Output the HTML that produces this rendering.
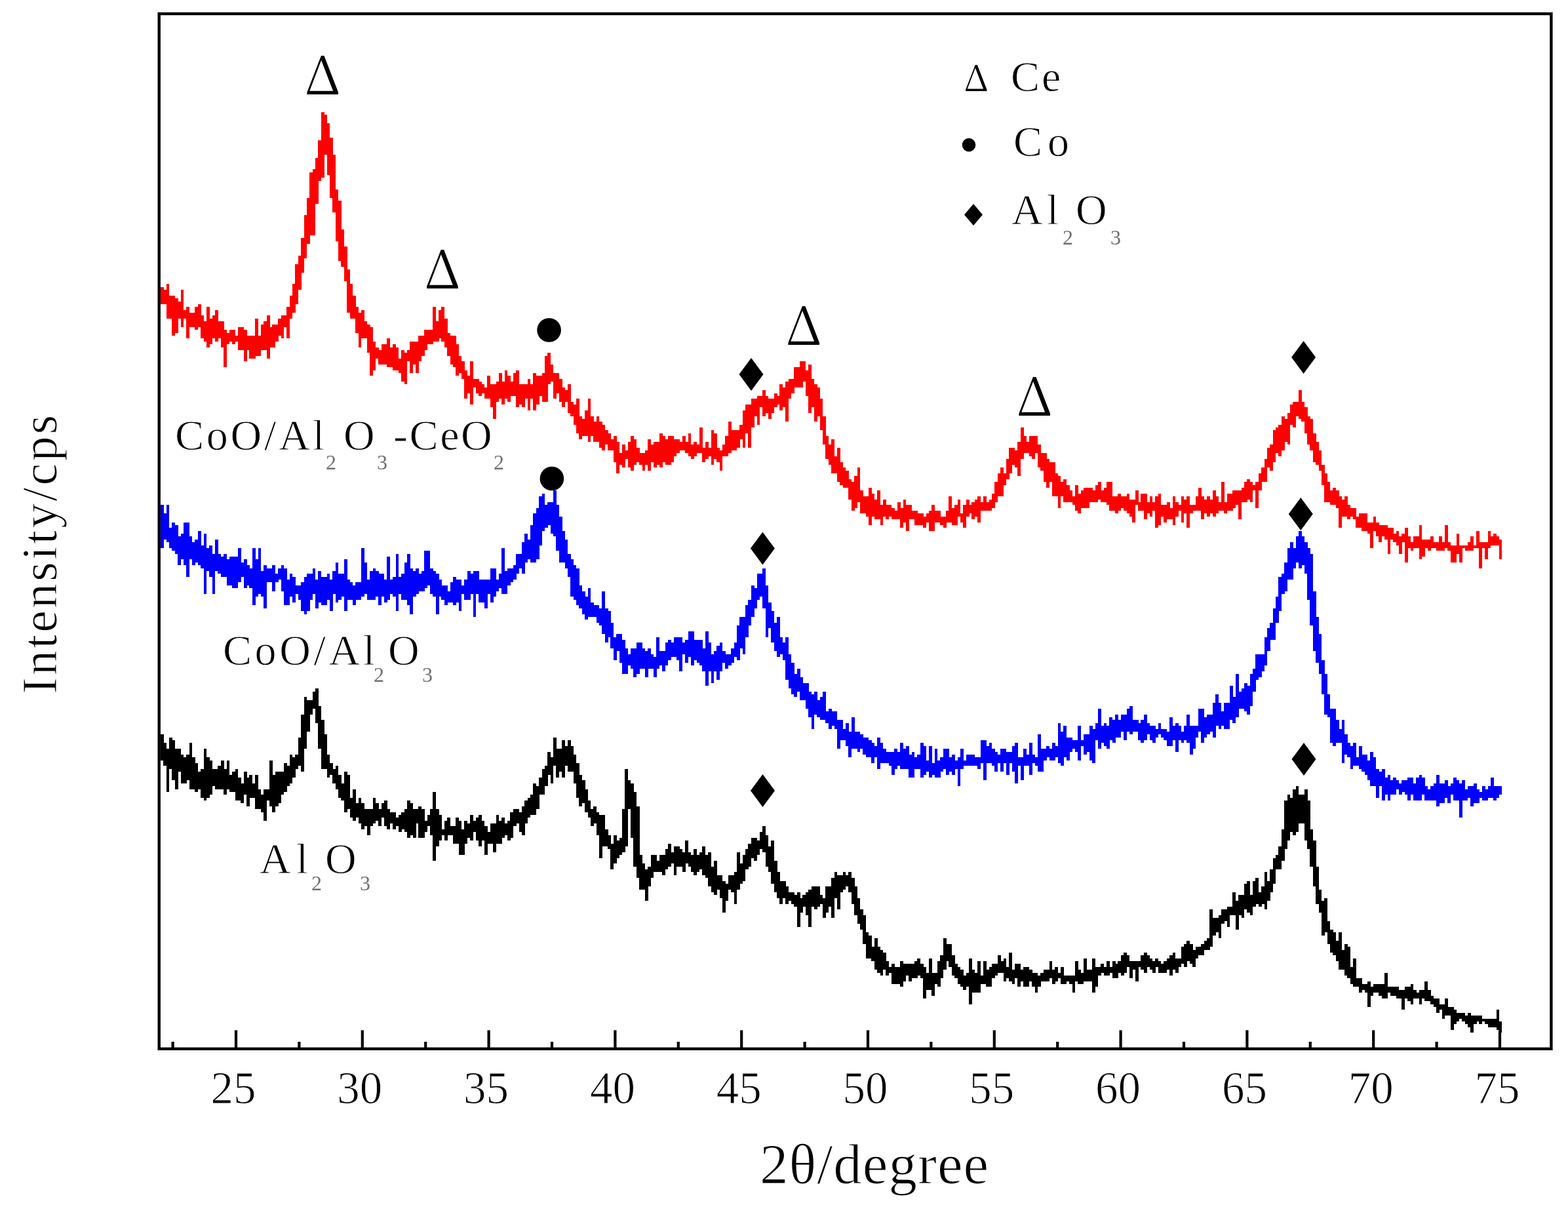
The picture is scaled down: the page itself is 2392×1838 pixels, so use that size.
<!DOCTYPE html>
<html><head><meta charset="utf-8"><title>XRD patterns</title>
<style>html,body{margin:0;padding:0;background:#fff;}svg{display:block;}</style>
</head><body>
<svg width="2392" height="1838" viewBox="0 0 2392 1838">
<rect width="2392" height="1838" fill="#fff"/>
<g shape-rendering="crispEdges">
<path fill="#ff0000" d="M244.9 437.6H249.7V463.9H244.9ZM249.3 442.0H254.0V463.9H249.3ZM253.6 433.2H258.4V485.8H253.6ZM258.0 450.7H262.8V485.8H258.0ZM262.4 450.7H267.1V512.0H262.4ZM266.7 455.1H271.5V507.6H266.7ZM271.1 459.5H275.9V485.8H271.1ZM275.5 442.0H280.3V498.9H275.5ZM279.9 472.6H284.6V485.8H279.9ZM284.2 468.3H289.0V516.4H284.2ZM288.6 477.0H293.4V498.9H288.6ZM293.0 477.0H297.8V498.9H293.0ZM297.4 468.3H302.1V503.3H297.4ZM301.7 463.9H306.5V498.9H301.7ZM306.1 481.4H310.9V516.4H306.1ZM310.5 490.1H315.3V520.8H310.5ZM314.9 468.3H319.6V529.5H314.9ZM319.2 485.8H324.0V525.1H319.2ZM323.6 481.4H328.4V516.4H323.6ZM328.0 472.6H332.7V520.8H328.0ZM332.3 490.1H337.1V516.4H332.3ZM336.7 490.1H341.5V529.5H336.7ZM341.1 503.3H345.9V560.2H341.1ZM345.5 507.6H350.2V525.1H345.5ZM349.8 503.3H354.6V520.8H349.8ZM354.2 503.3H359.0V525.1H354.2ZM358.6 512.0H363.4V520.8H358.6ZM363.0 498.9H367.7V533.9H363.0ZM367.3 498.9H372.1V533.9H367.3ZM371.7 503.3H376.5V551.4H371.7ZM376.1 512.0H380.8V533.9H376.1ZM380.4 512.0H385.2V547.0H380.4ZM384.8 512.0H389.6V547.0H384.8ZM389.2 485.8H394.0V542.6H389.2ZM393.6 512.0H398.3V542.6H393.6ZM397.9 494.5H402.7V533.9H397.9ZM402.3 490.1H407.1V533.9H402.3ZM406.7 481.4H411.5V547.0H406.7ZM411.1 498.9H415.8V529.5H411.1ZM415.4 494.5H420.2V529.5H415.4ZM419.8 494.5H424.6V520.8H419.8ZM424.2 485.8H428.9V512.0H424.2ZM428.5 481.4H433.3V516.4H428.5ZM432.9 481.4H437.7V498.9H432.9ZM437.3 468.3H442.1V516.4H437.3ZM441.7 450.7H446.4V485.8H441.7ZM446.0 433.2H450.8V477.0H446.0ZM450.4 402.6H455.2V463.9H450.4ZM454.8 389.5H459.6V442.0H454.8ZM459.2 363.2H463.9V415.7H459.2ZM463.5 328.2H468.3V393.9H463.5ZM467.9 302.0H472.7V372.0H467.9ZM472.3 262.6H477.1V358.8H472.3ZM476.7 258.2H481.4V358.8H476.7ZM481.0 240.7H485.8V310.7H481.0ZM485.4 214.4H490.2V275.7H485.4ZM489.8 170.7H494.5V271.3H489.8ZM494.1 175.0H498.9V236.3H494.1ZM498.5 188.2H503.3V266.9H498.5ZM502.9 210.1H507.7V302.0H502.9ZM507.3 236.3H512.0V323.8H507.3ZM511.6 288.8H516.4V367.6H511.6ZM516.0 306.3H520.8V398.2H516.0ZM520.4 350.1H525.2V407.0H520.4ZM524.8 376.4H529.5V428.9H524.8ZM529.1 411.4H533.9V477.0H529.1ZM533.5 433.2H538.3V485.8H533.5ZM537.9 450.7H542.6V485.8H537.9ZM542.2 468.3H547.0V507.6H542.2ZM546.6 477.0H551.4V529.5H546.6ZM551.0 472.6H555.8V516.4H551.0ZM555.4 490.1H560.1V516.4H555.4ZM559.7 494.5H564.5V538.3H559.7ZM564.1 498.9H568.9V573.3H564.1ZM568.5 520.8H573.3V564.5H568.5ZM572.9 529.5H577.6V547.0H572.9ZM577.2 533.9H582.0V555.8H577.2ZM581.6 525.1H586.4V555.8H581.6ZM586.0 525.1H590.7V555.8H586.0ZM590.3 516.4H595.1V560.2H590.3ZM594.7 529.5H599.5V560.2H594.7ZM599.1 525.1H603.9V564.5H599.1ZM603.5 529.5H608.2V564.5H603.5ZM607.8 547.0H612.6V568.9H607.8ZM612.2 533.9H617.0V582.0H612.2ZM616.6 538.3H621.4V586.4H616.6ZM621.0 533.9H625.7V551.4H621.0ZM625.3 520.8H630.1V568.9H625.3ZM629.7 520.8H634.5V555.8H629.7ZM634.1 520.8H638.8V568.9H634.1ZM638.4 512.0H643.2V551.4H638.4ZM642.8 512.0H647.6V542.6H642.8ZM647.2 503.3H652.0V533.9H647.2ZM651.6 503.3H656.3V525.1H651.6ZM655.9 503.3H660.7V525.1H655.9ZM660.3 468.3H665.1V520.8H660.3ZM664.7 490.1H669.5V520.8H664.7ZM669.1 472.6H673.8V516.4H669.1ZM673.4 468.3H678.2V520.8H673.4ZM677.8 485.8H682.6V529.5H677.8ZM682.2 507.6H687.0V542.6H682.2ZM686.6 512.0H691.3V555.8H686.6ZM690.9 512.0H695.7V560.2H690.9ZM695.3 525.1H700.1V573.3H695.3ZM699.7 542.6H704.4V568.9H699.7ZM704.0 551.4H708.8V577.7H704.0ZM708.4 564.5H713.2V608.3H708.4ZM712.8 573.3H717.6V599.5H712.8ZM717.2 551.4H721.9V617.0H717.2ZM721.5 577.7H726.3V590.8H721.5ZM725.9 577.7H730.7V599.5H725.9ZM730.3 582.0H735.1V603.9H730.3ZM734.7 586.4H739.4V599.5H734.7ZM739.0 590.8H743.8V608.3H739.0ZM743.4 573.3H748.2V608.3H743.4ZM747.8 586.4H752.5V621.4H747.8ZM752.1 586.4H756.9V638.9H752.1ZM756.5 582.0H761.3V612.7H756.5ZM760.9 568.9H765.7V608.3H760.9ZM765.3 582.0H770.0V617.0H765.3ZM769.6 564.5H774.4V608.3H769.6ZM774.0 573.3H778.8V612.7H774.0ZM778.4 582.0H783.2V603.9H778.4ZM782.8 568.9H787.5V603.9H782.8ZM787.1 564.5H791.9V621.4H787.1ZM791.5 586.4H796.3V617.0H791.5ZM795.9 586.4H800.6V621.4H795.9ZM800.2 586.4H805.0V608.3H800.2ZM804.6 577.7H809.4V625.8H804.6ZM809.0 586.4H813.8V608.3H809.0ZM813.4 568.9H818.1V625.8H813.4ZM817.7 573.3H822.5V617.0H817.7ZM822.1 573.3H826.9V603.9H822.1ZM826.5 568.9H831.3V612.7H826.5ZM830.9 542.6H835.6V612.7H830.9ZM835.2 538.3H840.0V586.4H835.2ZM839.6 555.8H844.4V582.0H839.6ZM844.0 568.9H848.8V608.3H844.0ZM848.4 568.9H853.1V599.5H848.4ZM852.7 577.7H857.5V612.7H852.7ZM857.1 590.8H861.9V621.4H857.1ZM861.5 595.2H866.2V612.7H861.5ZM865.8 586.4H870.6V630.2H865.8ZM870.2 612.7H875.0V634.5H870.2ZM874.6 617.0H879.4V647.7H874.6ZM879.0 608.3H883.7V660.8H879.0ZM883.3 634.5H888.1V669.6H883.3ZM887.7 638.9H892.5V665.2H887.7ZM892.1 625.8H896.9V665.2H892.1ZM896.5 608.3H901.2V673.9H896.5ZM900.8 634.5H905.6V665.2H900.8ZM905.2 643.3H910.0V673.9H905.2ZM909.6 634.5H914.3V673.9H909.6ZM913.9 643.3H918.7V682.7H913.9ZM918.3 647.7H923.1V687.1H918.3ZM922.7 656.4H927.5V678.3H922.7ZM927.1 660.8H931.8V687.1H927.1ZM931.4 669.6H936.2V687.1H931.4ZM935.8 665.2H940.6V704.6H935.8ZM940.2 673.9H945.0V722.1H940.2ZM944.6 691.4H949.3V708.9H944.6ZM948.9 678.3H953.7V713.3H948.9ZM953.3 687.1H958.1V700.2H953.3ZM957.7 673.9H962.4V713.3H957.7ZM962.0 665.2H966.8V717.7H962.0ZM966.4 669.6H971.2V708.9H966.4ZM970.8 682.7H975.6V704.6H970.8ZM975.2 691.4H979.9V708.9H975.2ZM979.5 691.4H984.3V717.7H979.5ZM983.9 687.1H988.7V708.9H983.9ZM988.3 669.6H993.1V717.7H988.3ZM992.7 678.3H997.4V704.6H992.7ZM997.0 673.9H1001.8V713.3H997.0ZM1001.4 673.9H1006.2V708.9H1001.4ZM1005.8 660.8H1010.5V713.3H1005.8ZM1010.1 665.2H1014.9V704.6H1010.1ZM1014.5 669.6H1019.3V708.9H1014.5ZM1018.9 665.2H1023.7V708.9H1018.9ZM1023.3 665.2H1028.0V704.6H1023.3ZM1027.6 669.6H1032.4V695.8H1027.6ZM1032.0 669.6H1036.8V691.4H1032.0ZM1036.4 673.9H1041.2V687.1H1036.4ZM1040.8 665.2H1045.5V687.1H1040.8ZM1045.1 673.9H1049.9V691.4H1045.1ZM1049.5 660.8H1054.3V695.8H1049.5ZM1053.9 678.3H1058.7V700.2H1053.9ZM1058.3 673.9H1063.0V695.8H1058.3ZM1062.6 678.3H1067.4V691.4H1062.6ZM1067.0 652.1H1071.8V691.4H1067.0ZM1071.4 682.7H1076.1V704.6H1071.4ZM1075.7 673.9H1080.5V700.2H1075.7ZM1080.1 682.7H1084.9V695.8H1080.1ZM1084.5 656.4H1089.3V708.9H1084.5ZM1088.9 660.8H1093.6V700.2H1088.9ZM1093.2 682.7H1098.0V704.6H1093.2ZM1097.6 687.1H1102.4V717.7H1097.6ZM1102.0 678.3H1106.8V695.8H1102.0ZM1106.4 665.2H1111.1V695.8H1106.4ZM1110.7 643.3H1115.5V691.4H1110.7ZM1115.1 656.4H1119.9V687.1H1115.1ZM1119.5 656.4H1124.2V687.1H1119.5ZM1123.8 656.4H1128.6V682.7H1123.8ZM1128.2 647.7H1133.0V669.6H1128.2ZM1132.6 625.8H1137.4V682.7H1132.6ZM1137.0 617.0H1141.7V660.8H1137.0ZM1141.3 617.0H1146.1V682.7H1141.3ZM1145.7 608.3H1150.5V652.1H1145.7ZM1150.1 608.3H1154.9V634.5H1150.1ZM1154.5 603.9H1159.2V647.7H1154.5ZM1158.8 603.9H1163.6V621.4H1158.8ZM1163.2 595.2H1168.0V634.5H1163.2ZM1167.6 603.9H1172.3V630.2H1167.6ZM1171.9 608.3H1176.7V638.9H1171.9ZM1176.3 608.3H1181.1V630.2H1176.3ZM1180.7 599.5H1185.5V621.4H1180.7ZM1185.1 603.9H1189.8V617.0H1185.1ZM1189.4 586.4H1194.2V625.8H1189.4ZM1193.8 590.8H1198.6V621.4H1193.8ZM1198.2 582.0H1203.0V643.3H1198.2ZM1202.6 577.7H1207.3V608.3H1202.6ZM1206.9 577.7H1211.7V599.5H1206.9ZM1211.3 560.2H1216.1V590.8H1211.3ZM1215.7 560.2H1220.5V590.8H1215.7ZM1220.1 551.4H1224.8V590.8H1220.1ZM1224.4 551.4H1229.2V582.0H1224.4ZM1228.8 564.5H1233.6V603.9H1228.8ZM1233.2 555.8H1237.9V630.2H1233.2ZM1237.5 577.7H1242.3V621.4H1237.5ZM1241.9 586.4H1246.7V643.3H1241.9ZM1246.3 590.8H1251.1V634.5H1246.3ZM1250.7 608.3H1255.4V656.4H1250.7ZM1255.0 634.5H1259.8V678.3H1255.0ZM1259.4 665.2H1264.2V700.2H1259.4ZM1263.8 678.3H1268.6V708.9H1263.8ZM1268.2 669.6H1272.9V722.1H1268.2ZM1272.5 695.8H1277.3V722.1H1272.5ZM1276.9 682.7H1281.7V735.2H1276.9ZM1281.3 704.6H1286.0V739.6H1281.3ZM1285.6 713.3H1290.4V744.0H1285.6ZM1290.0 717.7H1294.8V744.0H1290.0ZM1294.4 730.8H1299.2V761.5H1294.4ZM1298.8 735.2H1303.5V779.0H1298.8ZM1303.1 726.4H1307.9V774.6H1303.1ZM1307.5 713.3H1312.3V765.8H1307.5ZM1311.9 748.3H1316.7V783.3H1311.9ZM1316.3 757.1H1321.0V783.3H1316.3ZM1320.6 757.1H1325.4V787.7H1320.6ZM1325.0 744.0H1329.8V800.8H1325.0ZM1329.4 752.7H1334.1V787.7H1329.4ZM1333.7 761.5H1338.5V792.1H1333.7ZM1338.1 748.3H1342.9V792.1H1338.1ZM1342.5 770.2H1347.3V800.8H1342.5ZM1346.9 761.5H1351.6V787.7H1346.9ZM1351.2 770.2H1356.0V792.1H1351.2ZM1355.6 770.2H1360.4V787.7H1355.6ZM1360.0 774.6H1364.8V792.1H1360.0ZM1364.4 779.0H1369.1V792.1H1364.4ZM1368.7 765.8H1373.5V792.1H1368.7ZM1373.1 774.6H1377.9V805.2H1373.1ZM1377.5 761.5H1382.3V796.5H1377.5ZM1381.9 770.2H1386.6V809.6H1381.9ZM1386.2 770.2H1391.0V792.1H1386.2ZM1390.6 779.0H1395.4V792.1H1390.6ZM1395.0 779.0H1399.7V800.8H1395.0ZM1399.3 783.3H1404.1V800.8H1399.3ZM1403.7 783.3H1408.5V800.8H1403.7ZM1408.1 787.7H1412.9V805.2H1408.1ZM1412.5 783.3H1417.2V796.5H1412.5ZM1416.8 779.0H1421.6V809.6H1416.8ZM1421.2 770.2H1426.0V809.6H1421.2ZM1425.6 779.0H1430.4V796.5H1425.6ZM1430.0 779.0H1434.7V796.5H1430.0ZM1434.3 787.7H1439.1V800.8H1434.3ZM1438.7 787.7H1443.5V805.2H1438.7ZM1443.1 779.0H1447.8V796.5H1443.1ZM1447.4 757.1H1452.2V796.5H1447.4ZM1451.8 774.6H1456.6V800.8H1451.8ZM1456.2 770.2H1461.0V800.8H1456.2ZM1460.6 761.5H1465.3V787.7H1460.6ZM1464.9 783.3H1469.7V796.5H1464.9ZM1469.3 770.2H1474.1V805.2H1469.3ZM1473.7 761.5H1478.5V787.7H1473.7ZM1478.1 770.2H1482.8V783.3H1478.1ZM1482.4 765.8H1487.2V792.1H1482.4ZM1486.8 761.5H1491.6V787.7H1486.8ZM1491.2 757.1H1495.9V796.5H1491.2ZM1495.5 765.8H1500.3V779.0H1495.5ZM1499.9 757.1H1504.7V779.0H1499.9ZM1504.3 765.8H1509.1V779.0H1504.3ZM1508.7 761.5H1513.4V779.0H1508.7ZM1513.0 752.7H1517.8V774.6H1513.0ZM1517.4 735.2H1522.2V765.8H1517.4ZM1521.8 722.1H1526.6V757.1H1521.8ZM1526.2 713.3H1530.9V757.1H1526.2ZM1530.5 722.1H1535.3V739.6H1530.5ZM1534.9 700.2H1539.7V730.8H1534.9ZM1539.3 682.7H1544.0V722.1H1539.3ZM1543.6 682.7H1548.4V708.9H1543.6ZM1548.0 687.1H1552.8V713.3H1548.0ZM1552.4 673.9H1557.2V726.4H1552.4ZM1556.8 652.1H1561.5V700.2H1556.8ZM1561.1 665.2H1565.9V691.4H1561.1ZM1565.5 673.9H1570.3V691.4H1565.5ZM1569.9 665.2H1574.7V695.8H1569.9ZM1574.3 665.2H1579.0V700.2H1574.3ZM1578.6 665.2H1583.4V691.4H1578.6ZM1583.0 678.3H1587.8V713.3H1583.0ZM1587.4 691.4H1592.2V717.7H1587.4ZM1591.8 691.4H1596.5V735.2H1591.8ZM1596.1 700.2H1600.9V744.0H1596.1ZM1600.5 704.6H1605.3V735.2H1600.5ZM1604.9 704.6H1609.6V757.1H1604.9ZM1609.2 722.1H1614.0V757.1H1609.2ZM1613.6 726.4H1618.4V774.6H1613.6ZM1618.0 735.2H1622.8V757.1H1618.0ZM1622.4 730.8H1627.1V765.8H1622.4ZM1626.7 739.6H1631.5V765.8H1626.7ZM1631.1 748.3H1635.9V765.8H1631.1ZM1635.5 757.1H1640.3V770.2H1635.5ZM1639.9 739.6H1644.6V779.0H1639.9ZM1644.2 752.7H1649.0V783.3H1644.2ZM1648.6 748.3H1653.4V774.6H1648.6ZM1653.0 744.0H1657.7V774.6H1653.0ZM1657.3 744.0H1662.1V774.6H1657.3ZM1661.7 744.0H1666.5V765.8H1661.7ZM1666.1 748.3H1670.9V765.8H1666.1ZM1670.5 739.6H1675.2V765.8H1670.5ZM1674.8 735.2H1679.6V761.5H1674.8ZM1679.2 748.3H1684.0V765.8H1679.2ZM1683.6 744.0H1688.4V765.8H1683.6ZM1688.0 735.2H1692.7V770.2H1688.0ZM1692.3 735.2H1697.1V779.0H1692.3ZM1696.7 757.1H1701.5V779.0H1696.7ZM1701.1 757.1H1705.8V783.3H1701.1ZM1705.4 752.7H1710.2V779.0H1705.4ZM1709.8 757.1H1714.6V774.6H1709.8ZM1714.2 757.1H1719.0V779.0H1714.2ZM1718.6 752.7H1723.3V783.3H1718.6ZM1722.9 761.5H1727.7V787.7H1722.9ZM1727.3 761.5H1732.1V796.5H1727.3ZM1731.7 748.3H1736.5V770.2H1731.7ZM1736.1 765.8H1740.8V779.0H1736.1ZM1740.4 752.7H1745.2V779.0H1740.4ZM1744.8 752.7H1749.6V792.1H1744.8ZM1749.2 765.8H1754.0V783.3H1749.2ZM1753.6 757.1H1758.3V787.7H1753.6ZM1757.9 765.8H1762.7V779.0H1757.9ZM1762.3 757.1H1767.1V805.2H1762.3ZM1766.7 752.7H1771.4V800.8H1766.7ZM1771.0 770.2H1775.8V787.7H1771.0ZM1775.4 770.2H1780.2V796.5H1775.4ZM1779.8 765.8H1784.6V792.1H1779.8ZM1784.2 774.6H1788.9V792.1H1784.2ZM1788.5 757.1H1793.3V800.8H1788.5ZM1792.9 765.8H1797.7V787.7H1792.9ZM1797.3 770.2H1802.1V779.0H1797.3ZM1801.7 757.1H1806.4V796.5H1801.7ZM1806.0 761.5H1810.8V783.3H1806.0ZM1810.4 757.1H1815.2V805.2H1810.4ZM1814.8 770.2H1819.5V783.3H1814.8ZM1819.1 770.2H1823.9V779.0H1819.1ZM1823.5 757.1H1828.3V779.0H1823.5ZM1827.9 744.0H1832.7V779.0H1827.9ZM1832.3 757.1H1837.0V792.1H1832.3ZM1836.6 761.5H1841.4V783.3H1836.6ZM1841.0 757.1H1845.8V787.7H1841.0ZM1845.4 761.5H1850.2V783.3H1845.4ZM1849.8 748.3H1854.5V787.7H1849.8ZM1854.1 757.1H1858.9V783.3H1854.1ZM1858.5 765.8H1863.3V779.0H1858.5ZM1862.9 735.2H1867.6V779.0H1862.9ZM1867.2 765.8H1872.0V783.3H1867.2ZM1871.6 752.7H1876.4V779.0H1871.6ZM1876.0 752.7H1880.8V779.0H1876.0ZM1880.4 748.3H1885.1V774.6H1880.4ZM1884.7 748.3H1889.5V770.2H1884.7ZM1889.1 748.3H1893.9V792.1H1889.1ZM1893.5 744.0H1898.3V765.8H1893.5ZM1897.9 735.2H1902.6V765.8H1897.9ZM1902.2 730.8H1907.0V761.5H1902.2ZM1906.6 735.2H1911.4V765.8H1906.6ZM1911.0 739.6H1915.7V748.3H1911.0ZM1915.3 735.2H1920.1V774.6H1915.3ZM1919.7 722.1H1924.5V748.3H1919.7ZM1924.1 713.3H1928.9V735.2H1924.1ZM1928.5 700.2H1933.2V735.2H1928.5ZM1932.8 682.7H1937.6V713.3H1932.8ZM1937.2 678.3H1942.0V717.7H1937.2ZM1941.6 656.4H1946.4V704.6H1941.6ZM1946.0 652.1H1950.7V691.4H1946.0ZM1950.3 647.7H1955.1V695.8H1950.3ZM1954.7 634.5H1959.5V687.1H1954.7ZM1959.1 638.9H1963.9V673.9H1959.1ZM1963.5 630.2H1968.2V678.3H1963.5ZM1967.8 617.0H1972.6V647.7H1967.8ZM1972.2 612.7H1977.0V652.1H1972.2ZM1976.6 612.7H1981.3V634.5H1976.6ZM1980.9 595.2H1985.7V638.9H1980.9ZM1985.3 612.7H1990.1V643.3H1985.3ZM1989.7 621.4H1994.5V660.8H1989.7ZM1994.1 634.5H1998.8V678.3H1994.1ZM1998.4 638.9H2003.2V687.1H1998.4ZM2002.8 660.8H2007.6V704.6H2002.8ZM2007.2 673.9H2012.0V708.9H2007.2ZM2011.6 687.1H2016.3V717.7H2011.6ZM2015.9 708.9H2020.7V739.6H2015.9ZM2020.3 722.1H2025.1V765.8H2020.3ZM2024.7 735.2H2029.4V765.8H2024.7ZM2029.0 748.3H2033.8V770.2H2029.0ZM2033.4 744.0H2038.2V770.2H2033.4ZM2037.8 748.3H2042.6V774.6H2037.8ZM2042.2 757.1H2046.9V805.2H2042.2ZM2046.5 761.5H2051.3V787.7H2046.5ZM2050.9 757.1H2055.7V787.7H2050.9ZM2055.3 770.2H2060.1V792.1H2055.3ZM2059.7 774.6H2064.4V787.7H2059.7ZM2064.0 774.6H2068.8V792.1H2064.0ZM2068.4 787.7H2073.2V805.2H2068.4ZM2072.8 783.3H2077.5V805.2H2072.8ZM2077.1 783.3H2081.9V809.6H2077.1ZM2081.5 783.3H2086.3V809.6H2081.5ZM2085.9 796.5H2090.7V814.0H2085.9ZM2090.3 796.5H2095.0V835.9H2090.3ZM2094.6 787.7H2099.4V809.6H2094.6ZM2099.0 796.5H2103.8V818.3H2099.0ZM2103.4 800.8H2108.2V827.1H2103.4ZM2107.8 800.8H2112.5V818.3H2107.8ZM2112.1 800.8H2116.9V822.7H2112.1ZM2116.5 805.2H2121.3V844.6H2116.5ZM2120.9 805.2H2125.7V822.7H2120.9ZM2125.3 814.0H2130.0V827.1H2125.3ZM2129.6 809.6H2134.4V831.5H2129.6ZM2134.0 818.3H2138.8V844.6H2134.0ZM2138.4 814.0H2143.1V827.1H2138.4ZM2142.7 805.2H2147.5V857.7H2142.7ZM2147.1 818.3H2151.9V835.9H2147.1ZM2151.5 827.1H2156.3V840.2H2151.5ZM2155.9 818.3H2160.6V835.9H2155.9ZM2160.2 818.3H2165.0V835.9H2160.2ZM2164.6 800.8H2169.4V853.4H2164.6ZM2169.0 822.7H2173.8V849.0H2169.0ZM2173.4 822.7H2178.1V835.9H2173.4ZM2177.7 822.7H2182.5V840.2H2177.7ZM2182.1 818.3H2186.9V835.9H2182.1ZM2186.5 827.1H2191.2V835.9H2186.5ZM2190.8 827.1H2195.6V840.2H2190.8ZM2195.2 818.3H2200.0V840.2H2195.2ZM2199.6 827.1H2204.4V840.2H2199.6ZM2204.0 800.8H2208.7V835.9H2204.0ZM2208.3 827.1H2213.1V840.2H2208.3ZM2212.7 831.5H2217.5V857.7H2212.7ZM2217.1 831.5H2221.9V857.7H2217.1ZM2221.5 814.0H2226.2V844.6H2221.5ZM2225.8 831.5H2230.6V857.7H2225.8ZM2230.2 831.5H2235.0V835.9H2230.2ZM2234.6 831.5H2239.3V840.2H2234.6ZM2238.9 827.1H2243.7V840.2H2238.9ZM2243.3 818.3H2248.1V840.2H2243.3ZM2247.7 831.5H2252.5V835.9H2247.7ZM2252.1 809.6H2256.8V835.9H2252.1ZM2256.4 827.1H2261.2V866.5H2256.4ZM2260.8 827.1H2265.6V835.9H2260.8ZM2265.2 827.1H2270.0V853.4H2265.2ZM2269.6 809.6H2274.3V835.9H2269.6ZM2273.9 818.3H2278.7V831.5H2273.9ZM2278.3 814.0H2283.1V831.5H2278.3ZM2282.7 818.3H2287.4V831.5H2282.7ZM2287.0 822.7H2291.4V853.4H2287.0Z"/>
<path fill="#0000ff" d="M244.9 770.2H249.7V835.9H244.9ZM249.3 783.3H254.0V822.7H249.3ZM253.6 770.2H258.4V827.1H253.6ZM258.0 805.2H262.8V835.9H258.0ZM262.4 796.5H267.1V840.2H262.4ZM266.7 800.8H271.5V844.6H266.7ZM271.1 818.3H275.9V862.1H271.1ZM275.5 814.0H280.3V853.4H275.5ZM279.9 796.5H284.6V862.1H279.9ZM284.2 796.5H289.0V879.6H284.2ZM288.6 818.3H293.4V853.4H288.6ZM293.0 827.1H297.8V862.1H293.0ZM297.4 822.7H302.1V857.7H297.4ZM301.7 809.6H306.5V862.1H301.7ZM306.1 831.5H310.9V866.5H306.1ZM310.5 814.0H315.3V905.9H310.5ZM314.9 835.9H319.6V870.9H314.9ZM319.2 831.5H324.0V879.6H319.2ZM323.6 844.6H328.4V905.9H323.6ZM328.0 822.7H332.7V870.9H328.0ZM332.3 844.6H337.1V875.2H332.3ZM336.7 849.0H341.5V879.6H336.7ZM341.1 844.6H345.9V879.6H341.1ZM345.5 853.4H350.2V892.7H345.5ZM349.8 849.0H354.6V892.7H349.8ZM354.2 849.0H359.0V897.1H354.2ZM358.6 849.0H363.4V897.1H358.6ZM363.0 835.9H367.7V888.4H363.0ZM367.3 857.7H372.1V879.6H367.3ZM371.7 853.4H376.5V897.1H371.7ZM376.1 862.1H380.8V892.7H376.1ZM380.4 866.5H385.2V897.1H380.4ZM384.8 835.9H389.6V923.4H384.8ZM389.2 853.4H394.0V910.2H389.2ZM393.6 835.9H398.3V905.9H393.6ZM397.9 870.9H402.7V910.2H397.9ZM402.3 862.1H407.1V927.8H402.3ZM406.7 866.5H411.5V888.4H406.7ZM411.1 866.5H415.8V888.4H411.1ZM415.4 862.1H420.2V901.5H415.4ZM419.8 875.2H424.6V888.4H419.8ZM424.2 866.5H428.9V884.0H424.2ZM428.5 862.1H433.3V901.5H428.5ZM432.9 866.5H437.7V923.4H432.9ZM437.3 884.0H442.1V923.4H437.3ZM441.7 875.2H446.4V910.2H441.7ZM446.0 879.6H450.8V919.0H446.0ZM450.4 892.7H455.2V905.9H450.4ZM454.8 892.7H459.6V914.6H454.8ZM459.2 888.4H463.9V932.1H459.2ZM463.5 879.6H468.3V936.5H463.5ZM467.9 875.2H472.7V932.1H467.9ZM472.3 875.2H477.1V914.6H472.3ZM476.7 866.5H481.4V905.9H476.7ZM481.0 884.0H485.8V927.8H481.0ZM485.4 870.9H490.2V919.0H485.4ZM489.8 879.6H494.5V923.4H489.8ZM494.1 879.6H498.9V923.4H494.1ZM498.5 875.2H503.3V914.6H498.5ZM502.9 884.0H507.7V932.1H502.9ZM507.3 870.9H512.0V905.9H507.3ZM511.6 857.7H516.4V919.0H511.6ZM516.0 875.2H520.8V914.6H516.0ZM520.4 875.2H525.2V910.2H520.4ZM524.8 853.4H529.5V932.1H524.8ZM529.1 884.0H533.9V914.6H529.1ZM533.5 888.4H538.3V914.6H533.5ZM537.9 892.7H542.6V923.4H537.9ZM542.2 888.4H547.0V914.6H542.2ZM546.6 888.4H551.4V914.6H546.6ZM551.0 835.9H555.8V910.2H551.0ZM555.4 857.7H560.1V905.9H555.4ZM559.7 884.0H564.5V914.6H559.7ZM564.1 870.9H568.9V914.6H564.1ZM568.5 866.5H573.3V914.6H568.5ZM572.9 870.9H577.6V910.2H572.9ZM577.2 875.2H582.0V923.4H577.2ZM581.6 875.2H586.4V910.2H581.6ZM586.0 884.0H590.7V919.0H586.0ZM590.3 849.0H595.1V914.6H590.3ZM594.7 884.0H599.5V905.9H594.7ZM599.1 879.6H603.9V910.2H599.1ZM603.5 844.6H608.2V932.1H603.5ZM607.8 879.6H612.6V905.9H607.8ZM612.2 875.2H617.0V914.6H612.2ZM616.6 857.7H621.4V914.6H616.6ZM621.0 844.6H625.7V923.4H621.0ZM625.3 866.5H630.1V936.5H625.3ZM629.7 870.9H634.5V910.2H629.7ZM634.1 866.5H638.8V905.9H634.1ZM638.4 875.2H643.2V901.5H638.4ZM642.8 870.9H647.6V901.5H642.8ZM647.2 840.2H652.0V897.1H647.2ZM651.6 840.2H656.3V892.7H651.6ZM655.9 866.5H660.7V905.9H655.9ZM660.3 870.9H665.1V910.2H660.3ZM664.7 875.2H669.5V936.5H664.7ZM669.1 884.0H673.8V910.2H669.1ZM673.4 892.7H678.2V914.6H673.4ZM677.8 892.7H682.6V923.4H677.8ZM682.2 901.5H687.0V919.0H682.2ZM686.6 888.4H691.3V919.0H686.6ZM690.9 879.6H695.7V923.4H690.9ZM695.3 884.0H700.1V919.0H695.3ZM699.7 884.0H704.4V932.1H699.7ZM704.0 892.7H708.8V905.9H704.0ZM708.4 884.0H713.2V914.6H708.4ZM712.8 870.9H717.6V914.6H712.8ZM717.2 875.2H721.9V905.9H717.2ZM721.5 870.9H726.3V940.9H721.5ZM725.9 870.9H730.7V905.9H725.9ZM730.3 884.0H735.1V919.0H730.3ZM734.7 884.0H739.4V919.0H734.7ZM739.0 884.0H743.8V927.8H739.0ZM743.4 884.0H748.2V905.9H743.4ZM747.8 866.5H752.5V919.0H747.8ZM752.1 866.5H756.9V910.2H752.1ZM756.5 884.0H761.3V901.5H756.5ZM760.9 875.2H765.7V897.1H760.9ZM765.3 835.9H770.0V905.9H765.3ZM769.6 870.9H774.4V905.9H769.6ZM774.0 866.5H778.8V892.7H774.0ZM778.4 866.5H783.2V888.4H778.4ZM782.8 862.1H787.5V884.0H782.8ZM787.1 844.6H791.9V875.2H787.1ZM791.5 844.6H796.3V866.5H791.5ZM795.9 827.1H800.6V875.2H795.9ZM800.2 814.0H805.0V857.7H800.2ZM804.6 822.7H809.4V853.4H804.6ZM809.0 800.8H813.8V857.7H809.0ZM813.4 783.3H818.1V857.7H813.4ZM817.7 774.6H822.5V853.4H817.7ZM822.1 757.1H826.9V831.5H822.1ZM826.5 752.7H831.3V809.6H826.5ZM830.9 770.2H835.6V805.2H830.9ZM835.2 765.8H840.0V800.8H835.2ZM839.6 765.8H844.4V814.0H839.6ZM844.0 748.3H848.8V818.3H844.0ZM848.4 770.2H853.1V840.2H848.4ZM852.7 787.7H857.5V857.7H852.7ZM857.1 809.6H861.9V857.7H857.1ZM861.5 822.7H866.2V866.5H861.5ZM865.8 844.6H870.6V879.6H865.8ZM870.2 853.4H875.0V910.2H870.2ZM874.6 862.1H879.4V914.6H874.6ZM879.0 866.5H883.7V923.4H879.0ZM883.3 892.7H888.1V927.8H883.3ZM887.7 901.5H892.5V936.5H887.7ZM892.1 910.2H896.9V945.3H892.1ZM896.5 897.1H901.2V940.9H896.5ZM900.8 919.0H905.6V940.9H900.8ZM905.2 923.4H910.0V940.9H905.2ZM909.6 923.4H914.3V949.6H909.6ZM913.9 927.8H918.7V954.0H913.9ZM918.3 901.5H923.1V967.1H918.3ZM922.7 927.8H927.5V980.3H922.7ZM927.1 932.1H931.8V971.5H927.1ZM931.4 949.6H936.2V989.0H931.4ZM935.8 971.5H940.6V1006.5H935.8ZM940.2 967.1H945.0V993.4H940.2ZM944.6 967.1H949.3V1010.9H944.6ZM948.9 975.9H953.7V1028.4H948.9ZM953.3 989.0H958.1V1028.4H953.3ZM957.7 997.8H962.4V1015.3H957.7ZM962.0 989.0H966.8V1019.7H962.0ZM966.4 989.0H971.2V1032.8H966.4ZM970.8 980.3H975.6V1028.4H970.8ZM975.2 980.3H979.9V1019.7H975.2ZM979.5 989.0H984.3V1019.7H979.5ZM983.9 993.4H988.7V1032.8H983.9ZM988.3 989.0H993.1V1019.7H988.3ZM992.7 997.8H997.4V1019.7H992.7ZM997.0 1002.1H1001.8V1032.8H997.0ZM1001.4 971.5H1006.2V1019.7H1001.4ZM1005.8 993.4H1010.5V1015.3H1005.8ZM1010.1 993.4H1014.9V1024.0H1010.1ZM1014.5 980.3H1019.3V1015.3H1014.5ZM1018.9 975.9H1023.7V1006.5H1018.9ZM1023.3 980.3H1028.0V1002.1H1023.3ZM1027.6 971.5H1032.4V1002.1H1027.6ZM1032.0 971.5H1036.8V1006.5H1032.0ZM1036.4 971.5H1041.2V1024.0H1036.4ZM1040.8 980.3H1045.5V997.8H1040.8ZM1045.1 975.9H1049.9V1010.9H1045.1ZM1049.5 962.8H1054.3V1002.1H1049.5ZM1053.9 962.8H1058.7V1015.3H1053.9ZM1058.3 975.9H1063.0V1006.5H1058.3ZM1062.6 975.9H1067.4V1010.9H1062.6ZM1067.0 975.9H1071.8V1015.3H1067.0ZM1071.4 989.0H1076.1V1024.0H1071.4ZM1075.7 962.8H1080.5V1045.9H1075.7ZM1080.1 980.3H1084.9V1024.0H1080.1ZM1084.5 997.8H1089.3V1041.5H1084.5ZM1088.9 993.4H1093.6V1024.0H1088.9ZM1093.2 984.6H1098.0V1037.2H1093.2ZM1097.6 980.3H1102.4V1024.0H1097.6ZM1102.0 993.4H1106.8V1010.9H1102.0ZM1106.4 997.8H1111.1V1019.7H1106.4ZM1110.7 997.8H1115.5V1015.3H1110.7ZM1115.1 989.0H1119.9V1010.9H1115.1ZM1119.5 980.3H1124.2V1002.1H1119.5ZM1123.8 954.0H1128.6V1006.5H1123.8ZM1128.2 940.9H1133.0V989.0H1128.2ZM1132.6 940.9H1137.4V997.8H1132.6ZM1137.0 923.4H1141.7V971.5H1137.0ZM1141.3 914.6H1146.1V954.0H1141.3ZM1145.7 892.7H1150.5V940.9H1145.7ZM1150.1 897.1H1154.9V927.8H1150.1ZM1154.5 875.2H1159.2V914.6H1154.5ZM1158.8 875.2H1163.6V910.2H1158.8ZM1163.2 866.5H1168.0V927.8H1163.2ZM1167.6 892.7H1172.3V971.5H1167.6ZM1171.9 919.0H1176.7V958.4H1171.9ZM1176.3 932.1H1181.1V980.3H1176.3ZM1180.7 949.6H1185.5V993.4H1180.7ZM1185.1 940.9H1189.8V1002.1H1185.1ZM1189.4 971.5H1194.2V997.8H1189.4ZM1193.8 980.3H1198.6V1006.5H1193.8ZM1198.2 971.5H1203.0V1037.2H1198.2ZM1202.6 997.8H1207.3V1050.3H1202.6ZM1206.9 1010.9H1211.7V1059.0H1206.9ZM1211.3 1028.4H1216.1V1063.4H1211.3ZM1215.7 1019.7H1220.5V1054.7H1215.7ZM1220.1 1032.8H1224.8V1067.8H1220.1ZM1224.4 1041.5H1229.2V1067.8H1224.4ZM1228.8 1041.5H1233.6V1080.9H1228.8ZM1233.2 1054.7H1237.9V1094.0H1233.2ZM1237.5 1059.0H1242.3V1111.6H1237.5ZM1241.9 1054.7H1246.7V1089.7H1241.9ZM1246.3 1067.8H1251.1V1094.0H1246.3ZM1250.7 1063.4H1255.4V1098.4H1250.7ZM1255.0 1054.7H1259.8V1098.4H1255.0ZM1259.4 1085.3H1264.2V1102.8H1259.4ZM1263.8 1080.9H1268.6V1111.6H1263.8ZM1268.2 1085.3H1272.9V1107.2H1268.2ZM1272.5 1085.3H1277.3V1111.6H1272.5ZM1276.9 1098.4H1281.7V1142.2H1276.9ZM1281.3 1098.4H1286.0V1129.1H1281.3ZM1285.6 1111.6H1290.4V1129.1H1285.6ZM1290.0 1102.8H1294.8V1137.8H1290.0ZM1294.4 1115.9H1299.2V1155.3H1294.4ZM1298.8 1094.0H1303.5V1142.2H1298.8ZM1303.1 1115.9H1307.9V1142.2H1303.1ZM1307.5 1115.9H1312.3V1146.6H1307.5ZM1311.9 1120.3H1316.7V1142.2H1311.9ZM1316.3 1124.7H1321.0V1150.9H1316.3ZM1320.6 1124.7H1325.4V1155.3H1320.6ZM1325.0 1129.1H1329.8V1155.3H1325.0ZM1329.4 1133.4H1334.1V1164.1H1329.4ZM1333.7 1137.8H1338.5V1155.3H1333.7ZM1338.1 1124.7H1342.9V1172.8H1338.1ZM1342.5 1133.4H1347.3V1164.1H1342.5ZM1346.9 1142.2H1351.6V1164.1H1346.9ZM1351.2 1146.6H1356.0V1164.1H1351.2ZM1355.6 1146.6H1360.4V1168.4H1355.6ZM1360.0 1146.6H1364.8V1181.6H1360.0ZM1364.4 1142.2H1369.1V1172.8H1364.4ZM1368.7 1146.6H1373.5V1168.4H1368.7ZM1373.1 1133.4H1377.9V1172.8H1373.1ZM1377.5 1142.2H1382.3V1172.8H1377.5ZM1381.9 1137.8H1386.6V1172.8H1381.9ZM1386.2 1150.9H1391.0V1185.9H1386.2ZM1390.6 1146.6H1395.4V1185.9H1390.6ZM1395.0 1155.3H1399.7V1172.8H1395.0ZM1399.3 1150.9H1404.1V1172.8H1399.3ZM1403.7 1133.4H1408.5V1185.9H1403.7ZM1408.1 1137.8H1412.9V1181.6H1408.1ZM1412.5 1159.7H1417.2V1177.2H1412.5ZM1416.8 1137.8H1421.6V1185.9H1416.8ZM1421.2 1164.1H1426.0V1181.6H1421.2ZM1425.6 1142.2H1430.4V1185.9H1425.6ZM1430.0 1159.7H1434.7V1185.9H1430.0ZM1434.3 1155.3H1439.1V1177.2H1434.3ZM1438.7 1142.2H1443.5V1172.8H1438.7ZM1443.1 1142.2H1447.8V1181.6H1443.1ZM1447.4 1155.3H1452.2V1177.2H1447.4ZM1451.8 1150.9H1456.6V1181.6H1451.8ZM1456.2 1159.7H1461.0V1172.8H1456.2ZM1460.6 1155.3H1465.3V1199.1H1460.6ZM1464.9 1142.2H1469.7V1172.8H1464.9ZM1469.3 1159.7H1474.1V1168.4H1469.3ZM1473.7 1150.9H1478.5V1168.4H1473.7ZM1478.1 1150.9H1482.8V1168.4H1478.1ZM1482.4 1150.9H1487.2V1168.4H1482.4ZM1486.8 1155.3H1491.6V1168.4H1486.8ZM1491.2 1155.3H1495.9V1172.8H1491.2ZM1495.5 1129.1H1500.3V1164.1H1495.5ZM1499.9 1129.1H1504.7V1190.3H1499.9ZM1504.3 1137.8H1509.1V1164.1H1504.3ZM1508.7 1133.4H1513.4V1164.1H1508.7ZM1513.0 1142.2H1517.8V1168.4H1513.0ZM1517.4 1146.6H1522.2V1177.2H1517.4ZM1521.8 1150.9H1526.6V1164.1H1521.8ZM1526.2 1142.2H1530.9V1177.2H1526.2ZM1530.5 1142.2H1535.3V1164.1H1530.5ZM1534.9 1146.6H1539.7V1181.6H1534.9ZM1539.3 1146.6H1544.0V1164.1H1539.3ZM1543.6 1137.8H1548.4V1177.2H1543.6ZM1548.0 1133.4H1552.8V1194.7H1548.0ZM1552.4 1155.3H1557.2V1168.4H1552.4ZM1556.8 1155.3H1561.5V1190.3H1556.8ZM1561.1 1142.2H1565.9V1168.4H1561.1ZM1565.5 1150.9H1570.3V1168.4H1565.5ZM1569.9 1133.4H1574.7V1181.6H1569.9ZM1574.3 1150.9H1579.0V1164.1H1574.3ZM1578.6 1155.3H1583.4V1168.4H1578.6ZM1583.0 1120.3H1587.8V1177.2H1583.0ZM1587.4 1142.2H1592.2V1177.2H1587.4ZM1591.8 1142.2H1596.5V1159.7H1591.8ZM1596.1 1137.8H1600.9V1155.3H1596.1ZM1600.5 1142.2H1605.3V1159.7H1600.5ZM1604.9 1133.4H1609.6V1159.7H1604.9ZM1609.2 1137.8H1614.0V1155.3H1609.2ZM1613.6 1102.8H1618.4V1164.1H1613.6ZM1618.0 1115.9H1622.8V1168.4H1618.0ZM1622.4 1107.2H1627.1V1155.3H1622.4ZM1626.7 1124.7H1631.5V1159.7H1626.7ZM1631.1 1124.7H1635.9V1146.6H1631.1ZM1635.5 1129.1H1640.3V1142.2H1635.5ZM1639.9 1129.1H1644.6V1146.6H1639.9ZM1644.2 1107.2H1649.0V1159.7H1644.2ZM1648.6 1129.1H1653.4V1137.8H1648.6ZM1653.0 1120.3H1657.7V1150.9H1653.0ZM1657.3 1120.3H1662.1V1146.6H1657.3ZM1661.7 1107.2H1666.5V1159.7H1661.7ZM1666.1 1111.6H1670.9V1164.1H1666.1ZM1670.5 1102.8H1675.2V1129.1H1670.5ZM1674.8 1080.9H1679.6V1142.2H1674.8ZM1679.2 1107.2H1684.0V1133.4H1679.2ZM1683.6 1102.8H1688.4V1137.8H1683.6ZM1688.0 1107.2H1692.7V1142.2H1688.0ZM1692.3 1094.0H1697.1V1129.1H1692.3ZM1696.7 1098.4H1701.5V1133.4H1696.7ZM1701.1 1089.7H1705.8V1124.7H1701.1ZM1705.4 1098.4H1710.2V1124.7H1705.4ZM1709.8 1089.7H1714.6V1115.9H1709.8ZM1714.2 1089.7H1719.0V1129.1H1714.2ZM1718.6 1080.9H1723.3V1115.9H1718.6ZM1722.9 1076.5H1727.7V1120.3H1722.9ZM1727.3 1098.4H1732.1V1115.9H1727.3ZM1731.7 1098.4H1736.5V1115.9H1731.7ZM1736.1 1102.8H1740.8V1129.1H1736.1ZM1740.4 1098.4H1745.2V1133.4H1740.4ZM1744.8 1089.7H1749.6V1129.1H1744.8ZM1749.2 1102.8H1754.0V1120.3H1749.2ZM1753.6 1107.2H1758.3V1129.1H1753.6ZM1757.9 1107.2H1762.7V1133.4H1757.9ZM1762.3 1111.6H1767.1V1124.7H1762.3ZM1766.7 1102.8H1771.4V1120.3H1766.7ZM1771.0 1111.6H1775.8V1124.7H1771.0ZM1775.4 1111.6H1780.2V1129.1H1775.4ZM1779.8 1115.9H1784.6V1137.8H1779.8ZM1784.2 1094.0H1788.9V1137.8H1784.2ZM1788.5 1107.2H1793.3V1129.1H1788.5ZM1792.9 1102.8H1797.7V1146.6H1792.9ZM1797.3 1107.2H1802.1V1129.1H1797.3ZM1801.7 1115.9H1806.4V1133.4H1801.7ZM1806.0 1107.2H1810.8V1129.1H1806.0ZM1810.4 1089.7H1815.2V1133.4H1810.4ZM1814.8 1107.2H1819.5V1150.9H1814.8ZM1819.1 1107.2H1823.9V1142.2H1819.1ZM1823.5 1107.2H1828.3V1124.7H1823.5ZM1827.9 1080.9H1832.7V1115.9H1827.9ZM1832.3 1080.9H1837.0V1133.4H1832.3ZM1836.6 1094.0H1841.4V1124.7H1836.6ZM1841.0 1089.7H1845.8V1120.3H1841.0ZM1845.4 1089.7H1850.2V1115.9H1845.4ZM1849.8 1072.2H1854.5V1124.7H1849.8ZM1854.1 1059.0H1858.9V1107.2H1854.1ZM1858.5 1072.2H1863.3V1111.6H1858.5ZM1862.9 1085.3H1867.6V1107.2H1862.9ZM1867.2 1072.2H1872.0V1111.6H1867.2ZM1871.6 1072.2H1876.4V1111.6H1871.6ZM1876.0 1045.9H1880.8V1098.4H1876.0ZM1880.4 1063.4H1885.1V1102.8H1880.4ZM1884.7 1028.4H1889.5V1094.0H1884.7ZM1889.1 1054.7H1893.9V1080.9H1889.1ZM1893.5 1050.3H1898.3V1080.9H1893.5ZM1897.9 1041.5H1902.6V1085.3H1897.9ZM1902.2 1045.9H1907.0V1089.7H1902.2ZM1906.6 1028.4H1911.4V1076.5H1906.6ZM1911.0 1019.7H1915.7V1054.7H1911.0ZM1915.3 997.8H1920.1V1037.2H1915.3ZM1919.7 997.8H1924.5V1032.8H1919.7ZM1924.1 997.8H1928.9V1024.0H1924.1ZM1928.5 971.5H1933.2V1015.3H1928.5ZM1932.8 958.4H1937.6V993.4H1932.8ZM1937.2 949.6H1942.0V975.9H1937.2ZM1941.6 927.8H1946.4V975.9H1941.6ZM1946.0 910.2H1950.7V949.6H1946.0ZM1950.3 879.6H1955.1V932.1H1950.3ZM1954.7 875.2H1959.5V905.9H1954.7ZM1959.1 857.7H1963.9V901.5H1959.1ZM1963.5 835.9H1968.2V884.0H1963.5ZM1967.8 827.1H1972.6V884.0H1967.8ZM1972.2 835.9H1977.0V866.5H1972.2ZM1976.6 818.3H1981.3V857.7H1976.6ZM1980.9 809.6H1985.7V866.5H1980.9ZM1985.3 818.3H1990.1V862.1H1985.3ZM1989.7 827.1H1994.5V875.2H1989.7ZM1994.1 835.9H1998.8V914.6H1994.1ZM1998.4 844.6H2003.2V954.0H1998.4ZM2002.8 901.5H2007.6V993.4H2002.8ZM2007.2 940.9H2012.0V1010.9H2007.2ZM2011.6 967.1H2016.3V1028.4H2011.6ZM2015.9 1006.5H2020.7V1059.0H2015.9ZM2020.3 1028.4H2025.1V1089.7H2020.3ZM2024.7 1059.0H2029.4V1094.0H2024.7ZM2029.0 1080.9H2033.8V1133.4H2029.0ZM2033.4 1080.9H2038.2V1137.8H2033.4ZM2037.8 1098.4H2042.6V1133.4H2037.8ZM2042.2 1111.6H2046.9V1133.4H2042.2ZM2046.5 1098.4H2051.3V1164.1H2046.5ZM2050.9 1120.3H2055.7V1150.9H2050.9ZM2055.3 1133.4H2060.1V1155.3H2055.3ZM2059.7 1137.8H2064.4V1172.8H2059.7ZM2064.0 1133.4H2068.8V1168.4H2064.0ZM2068.4 1155.3H2073.2V1168.4H2068.4ZM2072.8 1137.8H2077.5V1172.8H2072.8ZM2077.1 1150.9H2081.9V1177.2H2077.1ZM2081.5 1150.9H2086.3V1181.6H2081.5ZM2085.9 1159.7H2090.7V1190.3H2085.9ZM2090.3 1146.6H2095.0V1199.1H2090.3ZM2094.6 1155.3H2099.4V1199.1H2094.6ZM2099.0 1172.8H2103.8V1216.6H2099.0ZM2103.4 1177.2H2108.2V1199.1H2103.4ZM2107.8 1172.8H2112.5V1221.0H2107.8ZM2112.1 1185.9H2116.9V1212.2H2112.1ZM2116.5 1181.6H2121.3V1221.0H2116.5ZM2120.9 1190.3H2125.7V1212.2H2120.9ZM2125.3 1185.9H2130.0V1212.2H2125.3ZM2129.6 1190.3H2134.4V1203.5H2129.6ZM2134.0 1194.7H2138.8V1212.2H2134.0ZM2138.4 1190.3H2143.1V1207.8H2138.4ZM2142.7 1190.3H2147.5V1212.2H2142.7ZM2147.1 1185.9H2151.9V1221.0H2147.1ZM2151.5 1185.9H2156.3V1212.2H2151.5ZM2155.9 1194.7H2160.6V1221.0H2155.9ZM2160.2 1185.9H2165.0V1221.0H2160.2ZM2164.6 1181.6H2169.4V1221.0H2164.6ZM2169.0 1185.9H2173.8V1212.2H2169.0ZM2173.4 1199.1H2178.1V1221.0H2173.4ZM2177.7 1203.5H2182.5V1221.0H2177.7ZM2182.1 1199.1H2186.9V1221.0H2182.1ZM2186.5 1194.7H2191.2V1221.0H2186.5ZM2190.8 1181.6H2195.6V1229.7H2190.8ZM2195.2 1194.7H2200.0V1225.3H2195.2ZM2199.6 1194.7H2204.4V1225.3H2199.6ZM2204.0 1190.3H2208.7V1216.6H2204.0ZM2208.3 1199.1H2213.1V1225.3H2208.3ZM2212.7 1194.7H2217.5V1212.2H2212.7ZM2217.1 1185.9H2221.9V1221.0H2217.1ZM2221.5 1190.3H2226.2V1221.0H2221.5ZM2225.8 1194.7H2230.6V1247.2H2225.8ZM2230.2 1190.3H2235.0V1221.0H2230.2ZM2234.6 1203.5H2239.3V1221.0H2234.6ZM2238.9 1199.1H2243.7V1216.6H2238.9ZM2243.3 1199.1H2248.1V1229.7H2243.3ZM2247.7 1194.7H2252.5V1225.3H2247.7ZM2252.1 1203.5H2256.8V1225.3H2252.1ZM2256.4 1207.8H2261.2V1216.6H2256.4ZM2260.8 1199.1H2265.6V1221.0H2260.8ZM2265.2 1203.5H2270.0V1221.0H2265.2ZM2269.6 1199.1H2274.3V1216.6H2269.6ZM2273.9 1185.9H2278.7V1216.6H2273.9ZM2278.3 1199.1H2283.1V1221.0H2278.3ZM2282.7 1199.1H2287.4V1216.6H2282.7ZM2287.0 1199.1H2291.4V1212.2H2287.0Z"/>
<path fill="#000" d="M244.9 1120.3H249.7V1159.7H244.9ZM249.3 1133.4H254.0V1168.4H249.3ZM253.6 1142.2H258.4V1207.8H253.6ZM258.0 1124.7H262.8V1172.8H258.0ZM262.4 1129.1H267.1V1190.3H262.4ZM266.7 1142.2H271.5V1203.5H266.7ZM271.1 1142.2H275.9V1177.2H271.1ZM275.5 1150.9H280.3V1194.7H275.5ZM279.9 1155.3H284.6V1194.7H279.9ZM284.2 1150.9H289.0V1190.3H284.2ZM288.6 1133.4H293.4V1203.5H288.6ZM293.0 1155.3H297.8V1203.5H293.0ZM297.4 1164.1H302.1V1207.8H297.4ZM301.7 1177.2H306.5V1203.5H301.7ZM306.1 1172.8H310.9V1216.6H306.1ZM310.5 1142.2H315.3V1221.0H310.5ZM314.9 1155.3H319.6V1216.6H314.9ZM319.2 1159.7H324.0V1212.2H319.2ZM323.6 1172.8H328.4V1199.1H323.6ZM328.0 1172.8H332.7V1203.5H328.0ZM332.3 1168.4H337.1V1203.5H332.3ZM336.7 1159.7H341.5V1203.5H336.7ZM341.1 1172.8H345.9V1212.2H341.1ZM345.5 1159.7H350.2V1203.5H345.5ZM349.8 1181.6H354.6V1207.8H349.8ZM354.2 1177.2H359.0V1207.8H354.2ZM358.6 1172.8H363.4V1221.0H358.6ZM363.0 1185.9H367.7V1221.0H363.0ZM367.3 1194.7H372.1V1225.3H367.3ZM371.7 1177.2H376.5V1212.2H371.7ZM376.1 1185.9H380.8V1229.7H376.1ZM380.4 1181.6H385.2V1216.6H380.4ZM384.8 1194.7H389.6V1216.6H384.8ZM389.2 1181.6H394.0V1234.1H389.2ZM393.6 1203.5H398.3V1234.1H393.6ZM397.9 1212.2H402.7V1238.5H397.9ZM402.3 1203.5H407.1V1251.6H402.3ZM406.7 1203.5H411.5V1221.0H406.7ZM411.1 1159.7H415.8V1229.7H411.1ZM415.4 1181.6H420.2V1238.5H415.4ZM419.8 1177.2H424.6V1229.7H419.8ZM424.2 1177.2H428.9V1225.3H424.2ZM428.5 1177.2H433.3V1212.2H428.5ZM432.9 1164.1H437.7V1207.8H432.9ZM437.3 1168.4H442.1V1199.1H437.3ZM441.7 1150.9H446.4V1194.7H441.7ZM446.0 1155.3H450.8V1185.9H446.0ZM450.4 1150.9H455.2V1172.8H450.4ZM454.8 1124.7H459.6V1168.4H454.8ZM459.2 1089.7H463.9V1177.2H459.2ZM463.5 1063.4H468.3V1142.2H463.5ZM467.9 1067.8H472.7V1115.9H467.9ZM472.3 1067.8H477.1V1089.7H472.3ZM476.7 1054.7H481.4V1080.9H476.7ZM481.0 1050.3H485.8V1102.8H481.0ZM485.4 1076.5H490.2V1142.2H485.4ZM489.8 1098.4H494.5V1172.8H489.8ZM494.1 1120.3H498.9V1172.8H494.1ZM498.5 1150.9H503.3V1185.9H498.5ZM502.9 1164.1H507.7V1181.6H502.9ZM507.3 1172.8H512.0V1194.7H507.3ZM511.6 1168.4H516.4V1203.5H511.6ZM516.0 1181.6H520.8V1216.6H516.0ZM520.4 1194.7H525.2V1221.0H520.4ZM524.8 1177.2H529.5V1238.5H524.8ZM529.1 1181.6H533.9V1234.1H529.1ZM533.5 1216.6H538.3V1247.2H533.5ZM537.9 1203.5H542.6V1251.6H537.9ZM542.2 1225.3H547.0V1247.2H542.2ZM546.6 1216.6H551.4V1256.0H546.6ZM551.0 1225.3H555.8V1264.7H551.0ZM555.4 1234.1H560.1V1260.3H555.4ZM559.7 1234.1H564.5V1273.5H559.7ZM564.1 1234.1H568.9V1260.3H564.1ZM568.5 1216.6H573.3V1256.0H568.5ZM572.9 1225.3H577.6V1251.6H572.9ZM577.2 1234.1H582.0V1260.3H577.2ZM581.6 1225.3H586.4V1247.2H581.6ZM586.0 1221.0H590.7V1260.3H586.0ZM590.3 1234.1H595.1V1264.7H590.3ZM594.7 1238.5H599.5V1256.0H594.7ZM599.1 1238.5H603.9V1264.7H599.1ZM603.5 1247.2H608.2V1260.3H603.5ZM607.8 1242.8H612.6V1269.1H607.8ZM612.2 1238.5H617.0V1264.7H612.2ZM616.6 1234.1H621.4V1269.1H616.6ZM621.0 1221.0H625.7V1277.8H621.0ZM625.3 1225.3H630.1V1273.5H625.3ZM629.7 1234.1H634.5V1277.8H629.7ZM634.1 1234.1H638.8V1256.0H634.1ZM638.4 1229.7H643.2V1277.8H638.4ZM642.8 1234.1H647.6V1277.8H642.8ZM647.2 1251.6H652.0V1269.1H647.2ZM651.6 1242.8H656.3V1260.3H651.6ZM655.9 1234.1H660.7V1273.5H655.9ZM660.3 1207.8H665.1V1312.9H660.3ZM664.7 1234.1H669.5V1291.0H664.7ZM669.1 1242.8H673.8V1282.2H669.1ZM673.4 1264.7H678.2V1273.5H673.4ZM677.8 1251.6H682.6V1282.2H677.8ZM682.2 1247.2H687.0V1273.5H682.2ZM686.6 1260.3H691.3V1273.5H686.6ZM690.9 1260.3H695.7V1286.6H690.9ZM695.3 1247.2H700.1V1286.6H695.3ZM699.7 1251.6H704.4V1304.1H699.7ZM704.0 1264.7H708.8V1304.1H704.0ZM708.4 1251.6H713.2V1286.6H708.4ZM712.8 1256.0H717.6V1277.8H712.8ZM717.2 1242.8H721.9V1282.2H717.2ZM721.5 1251.6H726.3V1269.1H721.5ZM725.9 1247.2H730.7V1282.2H725.9ZM730.3 1242.8H735.1V1291.0H730.3ZM734.7 1251.6H739.4V1282.2H734.7ZM739.0 1260.3H743.8V1304.1H739.0ZM743.4 1269.1H748.2V1286.6H743.4ZM747.8 1256.0H752.5V1286.6H747.8ZM752.1 1256.0H756.9V1299.7H752.1ZM756.5 1242.8H761.3V1286.6H756.5ZM760.9 1251.6H765.7V1286.6H760.9ZM765.3 1247.2H770.0V1277.8H765.3ZM769.6 1256.0H774.4V1273.5H769.6ZM774.0 1251.6H778.8V1282.2H774.0ZM778.4 1238.5H783.2V1277.8H778.4ZM782.8 1234.1H787.5V1260.3H782.8ZM787.1 1234.1H791.9V1256.0H787.1ZM791.5 1238.5H796.3V1269.1H791.5ZM795.9 1229.7H800.6V1273.5H795.9ZM800.2 1221.0H805.0V1256.0H800.2ZM804.6 1216.6H809.4V1247.2H804.6ZM809.0 1212.2H813.8V1242.8H809.0ZM813.4 1194.7H818.1V1242.8H813.4ZM817.7 1199.1H822.5V1234.1H817.7ZM822.1 1185.9H826.9V1212.2H822.1ZM826.5 1172.8H831.3V1212.2H826.5ZM830.9 1168.4H835.6V1199.1H830.9ZM835.2 1146.6H840.0V1181.6H835.2ZM839.6 1155.3H844.4V1194.7H839.6ZM844.0 1124.7H848.8V1168.4H844.0ZM848.4 1142.2H853.1V1185.9H848.4ZM852.7 1142.2H857.5V1177.2H852.7ZM857.1 1129.1H861.9V1185.9H857.1ZM861.5 1137.8H866.2V1168.4H861.5ZM865.8 1129.1H870.6V1177.2H865.8ZM870.2 1137.8H875.0V1177.2H870.2ZM874.6 1150.9H879.4V1194.7H874.6ZM879.0 1164.1H883.7V1216.6H879.0ZM883.3 1181.6H888.1V1229.7H883.3ZM887.7 1190.3H892.5V1225.3H887.7ZM892.1 1203.5H896.9V1238.5H892.1ZM896.5 1221.0H901.2V1247.2H896.5ZM900.8 1234.1H905.6V1260.3H900.8ZM905.2 1229.7H910.0V1256.0H905.2ZM909.6 1238.5H914.3V1273.5H909.6ZM913.9 1242.8H918.7V1308.5H913.9ZM918.3 1242.8H923.1V1291.0H918.3ZM922.7 1264.7H927.5V1291.0H922.7ZM927.1 1273.5H931.8V1295.4H927.1ZM931.4 1286.6H936.2V1326.0H931.4ZM935.8 1273.5H940.6V1317.2H935.8ZM940.2 1282.2H945.0V1308.5H940.2ZM944.6 1277.8H949.3V1304.1H944.6ZM948.9 1234.1H953.7V1299.7H948.9ZM953.3 1172.8H958.1V1291.0H953.3ZM957.7 1190.3H962.4V1234.1H957.7ZM962.0 1194.7H966.8V1277.8H962.0ZM966.4 1207.8H971.2V1321.6H966.4ZM970.8 1229.7H975.6V1339.1H970.8ZM975.2 1304.1H979.9V1356.6H975.2ZM979.5 1317.2H984.3V1356.6H979.5ZM983.9 1326.0H988.7V1374.1H983.9ZM988.3 1321.6H993.1V1352.2H988.3ZM992.7 1304.1H997.4V1339.1H992.7ZM997.0 1304.1H1001.8V1330.4H997.0ZM1001.4 1312.9H1006.2V1330.4H1001.4ZM1005.8 1304.1H1010.5V1330.4H1005.8ZM1010.1 1304.1H1014.9V1334.7H1010.1ZM1014.5 1295.4H1019.3V1326.0H1014.5ZM1018.9 1286.6H1023.7V1321.6H1018.9ZM1023.3 1299.7H1028.0V1317.2H1023.3ZM1027.6 1291.0H1032.4V1334.7H1027.6ZM1032.0 1291.0H1036.8V1321.6H1032.0ZM1036.4 1295.4H1041.2V1321.6H1036.4ZM1040.8 1299.7H1045.5V1330.4H1040.8ZM1045.1 1282.2H1049.9V1317.2H1045.1ZM1049.5 1299.7H1054.3V1321.6H1049.5ZM1053.9 1304.1H1058.7V1330.4H1053.9ZM1058.3 1295.4H1063.0V1334.7H1058.3ZM1062.6 1304.1H1067.4V1330.4H1062.6ZM1067.0 1299.7H1071.8V1326.0H1067.0ZM1071.4 1291.0H1076.1V1334.7H1071.4ZM1075.7 1304.1H1080.5V1339.1H1075.7ZM1080.1 1299.7H1084.9V1352.2H1080.1ZM1084.5 1321.6H1089.3V1361.0H1084.5ZM1088.9 1312.9H1093.6V1365.4H1088.9ZM1093.2 1334.7H1098.0V1356.6H1093.2ZM1097.6 1334.7H1102.4V1369.7H1097.6ZM1102.0 1343.5H1106.8V1391.6H1102.0ZM1106.4 1347.9H1111.1V1374.1H1106.4ZM1110.7 1334.7H1115.5V1356.6H1110.7ZM1115.1 1334.7H1119.9V1361.0H1115.1ZM1119.5 1330.4H1124.2V1378.5H1119.5ZM1123.8 1299.7H1128.6V1356.6H1123.8ZM1128.2 1317.2H1133.0V1347.9H1128.2ZM1132.6 1304.1H1137.4V1343.5H1132.6ZM1137.0 1295.4H1141.7V1326.0H1137.0ZM1141.3 1286.6H1146.1V1321.6H1141.3ZM1145.7 1277.8H1150.5V1308.5H1145.7ZM1150.1 1277.8H1154.9V1312.9H1150.1ZM1154.5 1282.2H1159.2V1304.1H1154.5ZM1158.8 1269.1H1163.6V1295.4H1158.8ZM1163.2 1260.3H1168.0V1299.7H1163.2ZM1167.6 1273.5H1172.3V1321.6H1167.6ZM1171.9 1291.0H1176.7V1330.4H1171.9ZM1176.3 1282.2H1181.1V1347.9H1176.3ZM1180.7 1312.9H1185.5V1361.0H1180.7ZM1185.1 1330.4H1189.8V1369.7H1185.1ZM1189.4 1343.5H1194.2V1378.5H1189.4ZM1193.8 1343.5H1198.6V1369.7H1193.8ZM1198.2 1352.2H1203.0V1378.5H1198.2ZM1202.6 1361.0H1207.3V1374.1H1202.6ZM1206.9 1361.0H1211.7V1378.5H1206.9ZM1211.3 1365.4H1216.1V1382.9H1211.3ZM1215.7 1361.0H1220.5V1413.5H1215.7ZM1220.1 1369.7H1224.8V1391.6H1220.1ZM1224.4 1365.4H1229.2V1382.9H1224.4ZM1228.8 1361.0H1233.6V1396.0H1228.8ZM1233.2 1356.6H1237.9V1413.5H1233.2ZM1237.5 1352.2H1242.3V1382.9H1237.5ZM1241.9 1352.2H1246.7V1387.3H1241.9ZM1246.3 1352.2H1251.1V1382.9H1246.3ZM1250.7 1365.4H1255.4V1378.5H1250.7ZM1255.0 1369.7H1259.8V1400.4H1255.0ZM1259.4 1352.2H1264.2V1391.6H1259.4ZM1263.8 1352.2H1268.6V1382.9H1263.8ZM1268.2 1339.1H1272.9V1400.4H1268.2ZM1272.5 1330.4H1277.3V1369.7H1272.5ZM1276.9 1334.7H1281.7V1387.3H1276.9ZM1281.3 1334.7H1286.0V1361.0H1281.3ZM1285.6 1330.4H1290.4V1356.6H1285.6ZM1290.0 1334.7H1294.8V1352.2H1290.0ZM1294.4 1330.4H1299.2V1361.0H1294.4ZM1298.8 1339.1H1303.5V1378.5H1298.8ZM1303.1 1352.2H1307.9V1396.0H1303.1ZM1307.5 1369.7H1312.3V1409.1H1307.5ZM1311.9 1387.3H1316.7V1417.9H1311.9ZM1316.3 1396.0H1321.0V1439.8H1316.3ZM1320.6 1422.3H1325.4V1461.6H1320.6ZM1325.0 1426.6H1329.8V1461.6H1325.0ZM1329.4 1444.1H1334.1V1466.0H1329.4ZM1333.7 1431.0H1338.5V1479.2H1333.7ZM1338.1 1444.1H1342.9V1483.5H1338.1ZM1342.5 1448.5H1347.3V1487.9H1342.5ZM1346.9 1452.9H1351.6V1479.2H1346.9ZM1351.2 1466.0H1356.0V1487.9H1351.2ZM1355.6 1474.8H1360.4V1483.5H1355.6ZM1360.0 1470.4H1364.8V1501.0H1360.0ZM1364.4 1474.8H1369.1V1501.0H1364.4ZM1368.7 1474.8H1373.5V1501.0H1368.7ZM1373.1 1466.0H1377.9V1505.4H1373.1ZM1377.5 1470.4H1382.3V1496.7H1377.5ZM1381.9 1470.4H1386.6V1487.9H1381.9ZM1386.2 1470.4H1391.0V1496.7H1386.2ZM1390.6 1470.4H1395.4V1492.3H1390.6ZM1395.0 1466.0H1399.7V1492.3H1395.0ZM1399.3 1461.6H1404.1V1487.9H1399.3ZM1403.7 1470.4H1408.5V1492.3H1403.7ZM1408.1 1474.8H1412.9V1522.9H1408.1ZM1412.5 1483.5H1417.2V1509.8H1412.5ZM1416.8 1461.6H1421.6V1509.8H1416.8ZM1421.2 1483.5H1426.0V1518.5H1421.2ZM1425.6 1483.5H1430.4V1501.0H1425.6ZM1430.0 1466.0H1434.7V1505.4H1430.0ZM1434.3 1457.3H1439.1V1492.3H1434.3ZM1438.7 1431.0H1443.5V1479.2H1438.7ZM1443.1 1439.8H1447.8V1466.0H1443.1ZM1447.4 1439.8H1452.2V1474.8H1447.4ZM1451.8 1457.3H1456.6V1487.9H1451.8ZM1456.2 1470.4H1461.0V1492.3H1456.2ZM1460.6 1474.8H1465.3V1501.0H1460.6ZM1464.9 1479.2H1469.7V1505.4H1464.9ZM1469.3 1487.9H1474.1V1509.8H1469.3ZM1473.7 1483.5H1478.5V1505.4H1473.7ZM1478.1 1461.6H1482.8V1531.7H1478.1ZM1482.4 1479.2H1487.2V1514.2H1482.4ZM1486.8 1483.5H1491.6V1514.2H1486.8ZM1491.2 1466.0H1495.9V1514.2H1491.2ZM1495.5 1487.9H1500.3V1501.0H1495.5ZM1499.9 1466.0H1504.7V1501.0H1499.9ZM1504.3 1479.2H1509.1V1505.4H1504.3ZM1508.7 1474.8H1513.4V1505.4H1508.7ZM1513.0 1470.4H1517.8V1492.3H1513.0ZM1517.4 1470.4H1522.2V1487.9H1517.4ZM1521.8 1457.3H1526.6V1483.5H1521.8ZM1526.2 1466.0H1530.9V1483.5H1526.2ZM1530.5 1461.6H1535.3V1496.7H1530.5ZM1534.9 1474.8H1539.7V1492.3H1534.9ZM1539.3 1452.9H1544.0V1496.7H1539.3ZM1543.6 1479.2H1548.4V1501.0H1543.6ZM1548.0 1470.4H1552.8V1492.3H1548.0ZM1552.4 1470.4H1557.2V1505.4H1552.4ZM1556.8 1479.2H1561.5V1496.7H1556.8ZM1561.1 1474.8H1565.9V1505.4H1561.1ZM1565.5 1474.8H1570.3V1505.4H1565.5ZM1569.9 1479.2H1574.7V1496.7H1569.9ZM1574.3 1483.5H1579.0V1505.4H1574.3ZM1578.6 1483.5H1583.4V1514.2H1578.6ZM1583.0 1487.9H1587.8V1505.4H1583.0ZM1587.4 1483.5H1592.2V1496.7H1587.4ZM1591.8 1479.2H1596.5V1496.7H1591.8ZM1596.1 1479.2H1600.9V1496.7H1596.1ZM1600.5 1466.0H1605.3V1492.3H1600.5ZM1604.9 1479.2H1609.6V1501.0H1604.9ZM1609.2 1474.8H1614.0V1496.7H1609.2ZM1613.6 1483.5H1618.4V1492.3H1613.6ZM1618.0 1474.8H1622.8V1501.0H1618.0ZM1622.4 1487.9H1627.1V1501.0H1622.4ZM1626.7 1487.9H1631.5V1496.7H1626.7ZM1631.1 1487.9H1635.9V1501.0H1631.1ZM1635.5 1487.9H1640.3V1514.2H1635.5ZM1639.9 1466.0H1644.6V1496.7H1639.9ZM1644.2 1479.2H1649.0V1501.0H1644.2ZM1648.6 1483.5H1653.4V1501.0H1648.6ZM1653.0 1461.6H1657.7V1496.7H1653.0ZM1657.3 1479.2H1662.1V1496.7H1657.3ZM1661.7 1479.2H1666.5V1496.7H1661.7ZM1666.1 1461.6H1670.9V1514.2H1666.1ZM1670.5 1474.8H1675.2V1505.4H1670.5ZM1674.8 1474.8H1679.6V1487.9H1674.8ZM1679.2 1470.4H1684.0V1483.5H1679.2ZM1683.6 1474.8H1688.4V1487.9H1683.6ZM1688.0 1466.0H1692.7V1487.9H1688.0ZM1692.3 1474.8H1697.1V1483.5H1692.3ZM1696.7 1466.0H1701.5V1492.3H1696.7ZM1701.1 1470.4H1705.8V1492.3H1701.1ZM1705.4 1466.0H1710.2V1483.5H1705.4ZM1709.8 1457.3H1714.6V1487.9H1709.8ZM1714.2 1452.9H1719.0V1483.5H1714.2ZM1718.6 1457.3H1723.3V1474.8H1718.6ZM1722.9 1466.0H1727.7V1492.3H1722.9ZM1727.3 1466.0H1732.1V1479.2H1727.3ZM1731.7 1466.0H1736.5V1496.7H1731.7ZM1736.1 1466.0H1740.8V1474.8H1736.1ZM1740.4 1457.3H1745.2V1479.2H1740.4ZM1744.8 1452.9H1749.6V1483.5H1744.8ZM1749.2 1457.3H1754.0V1474.8H1749.2ZM1753.6 1461.6H1758.3V1479.2H1753.6ZM1757.9 1466.0H1762.7V1483.5H1757.9ZM1762.3 1461.6H1767.1V1474.8H1762.3ZM1766.7 1466.0H1771.4V1483.5H1766.7ZM1771.0 1470.4H1775.8V1483.5H1771.0ZM1775.4 1466.0H1780.2V1483.5H1775.4ZM1779.8 1461.6H1784.6V1479.2H1779.8ZM1784.2 1457.3H1788.9V1487.9H1784.2ZM1788.5 1452.9H1793.3V1479.2H1788.5ZM1792.9 1461.6H1797.7V1483.5H1792.9ZM1797.3 1461.6H1802.1V1474.8H1797.3ZM1801.7 1444.1H1806.4V1470.4H1801.7ZM1806.0 1439.8H1810.8V1474.8H1806.0ZM1810.4 1435.4H1815.2V1466.0H1810.4ZM1814.8 1439.8H1819.5V1470.4H1814.8ZM1819.1 1448.5H1823.9V1474.8H1819.1ZM1823.5 1444.1H1828.3V1461.6H1823.5ZM1827.9 1444.1H1832.7V1457.3H1827.9ZM1832.3 1439.8H1837.0V1457.3H1832.3ZM1836.6 1435.4H1841.4V1448.5H1836.6ZM1841.0 1431.0H1845.8V1448.5H1841.0ZM1845.4 1387.3H1850.2V1444.1H1845.4ZM1849.8 1400.4H1854.5V1426.6H1849.8ZM1854.1 1400.4H1858.9V1422.3H1854.1ZM1858.5 1396.0H1863.3V1431.0H1858.5ZM1862.9 1387.3H1867.6V1409.1H1862.9ZM1867.2 1387.3H1872.0V1404.8H1867.2ZM1871.6 1382.9H1876.4V1413.5H1871.6ZM1876.0 1382.9H1880.8V1396.0H1876.0ZM1880.4 1361.0H1885.1V1396.0H1880.4ZM1884.7 1374.1H1889.5V1417.9H1884.7ZM1889.1 1365.4H1893.9V1396.0H1889.1ZM1893.5 1365.4H1898.3V1400.4H1893.5ZM1897.9 1347.9H1902.6V1387.3H1897.9ZM1902.2 1343.5H1907.0V1391.6H1902.2ZM1906.6 1365.4H1911.4V1396.0H1906.6ZM1911.0 1343.5H1915.7V1382.9H1911.0ZM1915.3 1339.1H1920.1V1378.5H1915.3ZM1919.7 1361.0H1924.5V1382.9H1919.7ZM1924.1 1352.2H1928.9V1378.5H1924.1ZM1928.5 1330.4H1933.2V1387.3H1928.5ZM1932.8 1343.5H1937.6V1374.1H1932.8ZM1937.2 1326.0H1942.0V1361.0H1937.2ZM1941.6 1308.5H1946.4V1347.9H1941.6ZM1946.0 1304.1H1950.7V1326.0H1946.0ZM1950.3 1291.0H1955.1V1326.0H1950.3ZM1954.7 1264.7H1959.5V1312.9H1954.7ZM1959.1 1221.0H1963.9V1295.4H1959.1ZM1963.5 1212.2H1968.2V1282.2H1963.5ZM1967.8 1216.6H1972.6V1269.1H1967.8ZM1972.2 1203.5H1977.0V1273.5H1972.2ZM1976.6 1199.1H1981.3V1269.1H1976.6ZM1980.9 1212.2H1985.7V1256.0H1980.9ZM1985.3 1212.2H1990.1V1256.0H1985.3ZM1989.7 1203.5H1994.5V1282.2H1989.7ZM1994.1 1221.0H1998.8V1295.4H1994.1ZM1998.4 1264.7H2003.2V1321.6H1998.4ZM2002.8 1282.2H2007.6V1352.2H2002.8ZM2007.2 1321.6H2012.0V1378.5H2007.2ZM2011.6 1356.6H2016.3V1391.6H2011.6ZM2015.9 1374.1H2020.7V1426.6H2015.9ZM2020.3 1369.7H2025.1V1422.3H2020.3ZM2024.7 1404.8H2029.4V1439.8H2024.7ZM2029.0 1417.9H2033.8V1452.9H2029.0ZM2033.4 1422.3H2038.2V1457.3H2033.4ZM2037.8 1435.4H2042.6V1466.0H2037.8ZM2042.2 1422.3H2046.9V1479.2H2042.2ZM2046.5 1448.5H2051.3V1479.2H2046.5ZM2050.9 1439.8H2055.7V1487.9H2050.9ZM2055.3 1444.1H2060.1V1492.3H2055.3ZM2059.7 1474.8H2064.4V1501.0H2059.7ZM2064.0 1461.6H2068.8V1505.4H2064.0ZM2068.4 1492.3H2073.2V1505.4H2068.4ZM2072.8 1492.3H2077.5V1514.2H2072.8ZM2077.1 1501.0H2081.9V1509.8H2077.1ZM2081.5 1501.0H2086.3V1514.2H2081.5ZM2085.9 1496.7H2090.7V1536.0H2085.9ZM2090.3 1505.4H2095.0V1518.5H2090.3ZM2094.6 1501.0H2099.4V1514.2H2094.6ZM2099.0 1501.0H2103.8V1514.2H2099.0ZM2103.4 1501.0H2108.2V1518.5H2103.4ZM2107.8 1501.0H2112.5V1522.9H2107.8ZM2112.1 1483.5H2116.9V1522.9H2112.1ZM2116.5 1505.4H2121.3V1514.2H2116.5ZM2120.9 1505.4H2125.7V1518.5H2120.9ZM2125.3 1505.4H2130.0V1518.5H2125.3ZM2129.6 1505.4H2134.4V1522.9H2129.6ZM2134.0 1509.8H2138.8V1522.9H2134.0ZM2138.4 1509.8H2143.1V1540.4H2138.4ZM2142.7 1505.4H2147.5V1522.9H2142.7ZM2147.1 1505.4H2151.9V1527.3H2147.1ZM2151.5 1501.0H2156.3V1531.7H2151.5ZM2155.9 1509.8H2160.6V1522.9H2155.9ZM2160.2 1514.2H2165.0V1522.9H2160.2ZM2164.6 1509.8H2169.4V1531.7H2164.6ZM2169.0 1509.8H2173.8V1522.9H2169.0ZM2173.4 1496.7H2178.1V1527.3H2173.4ZM2177.7 1509.8H2182.5V1527.3H2177.7ZM2182.1 1518.5H2186.9V1531.7H2182.1ZM2186.5 1522.9H2191.2V1536.0H2186.5ZM2190.8 1522.9H2195.6V1544.8H2190.8ZM2195.2 1531.7H2200.0V1540.4H2195.2ZM2199.6 1531.7H2204.4V1553.5H2199.6ZM2204.0 1522.9H2208.7V1549.2H2204.0ZM2208.3 1536.0H2213.1V1549.2H2208.3ZM2212.7 1536.0H2217.5V1571.1H2212.7ZM2217.1 1540.4H2221.9V1562.3H2217.1ZM2221.5 1544.8H2226.2V1557.9H2221.5ZM2225.8 1544.8H2230.6V1553.5H2225.8ZM2230.2 1544.8H2235.0V1557.9H2230.2ZM2234.6 1549.2H2239.3V1562.3H2234.6ZM2238.9 1544.8H2243.7V1566.7H2238.9ZM2243.3 1549.2H2248.1V1575.4H2243.3ZM2247.7 1549.2H2252.5V1562.3H2247.7ZM2252.1 1549.2H2256.8V1557.9H2252.1ZM2256.4 1549.2H2261.2V1562.3H2256.4ZM2260.8 1553.5H2265.6V1557.9H2260.8ZM2265.2 1553.5H2270.0V1562.3H2265.2ZM2269.6 1553.5H2274.3V1566.7H2269.6ZM2273.9 1553.5H2278.7V1566.7H2273.9ZM2278.3 1553.5H2283.1V1566.7H2278.3ZM2282.7 1540.4H2287.4V1571.1H2282.7ZM2287.0 1557.9H2291.4V1575.4H2287.0Z"/>
</g>
<rect x="242.7" y="21" width="2123.7" height="1578.8" fill="none" stroke="#000" stroke-width="4.4"/>
<g fill="#000"><rect x="261.5" y="1589" width="4.2" height="10.8"/><rect x="357.9" y="1571.4" width="4.2" height="28.4"/><rect x="454.3" y="1589" width="4.2" height="10.8"/><rect x="550.7" y="1571.4" width="4.2" height="28.4"/><rect x="647.1" y="1589" width="4.2" height="10.8"/><rect x="743.5" y="1571.4" width="4.2" height="28.4"/><rect x="839.9" y="1589" width="4.2" height="10.8"/><rect x="936.3" y="1571.4" width="4.2" height="28.4"/><rect x="1032.7" y="1589" width="4.2" height="10.8"/><rect x="1129.1" y="1571.4" width="4.2" height="28.4"/><rect x="1225.5" y="1589" width="4.2" height="10.8"/><rect x="1321.9" y="1571.4" width="4.2" height="28.4"/><rect x="1418.3" y="1589" width="4.2" height="10.8"/><rect x="1514.7" y="1571.4" width="4.2" height="28.4"/><rect x="1611.1" y="1589" width="4.2" height="10.8"/><rect x="1707.5" y="1571.4" width="4.2" height="28.4"/><rect x="1803.9" y="1589" width="4.2" height="10.8"/><rect x="1900.3" y="1571.4" width="4.2" height="28.4"/><rect x="1996.7" y="1589" width="4.2" height="10.8"/><rect x="2093.1" y="1571.4" width="4.2" height="28.4"/><rect x="2189.5" y="1589" width="4.2" height="10.8"/><rect x="2285.9" y="1571.4" width="4.2" height="28.4"/></g>
<g font-family="'Liberation Serif', serif" fill="#000">
<g font-size="69" stroke="#fff" stroke-width="1"><text x="356.0" y="1682.5" text-anchor="middle">25</text><text x="548.8" y="1682.5" text-anchor="middle">30</text><text x="741.6" y="1682.5" text-anchor="middle">35</text><text x="934.4" y="1682.5" text-anchor="middle">40</text><text x="1127.2" y="1682.5" text-anchor="middle">45</text><text x="1320.0" y="1682.5" text-anchor="middle">50</text><text x="1512.8" y="1682.5" text-anchor="middle">55</text><text x="1705.6" y="1682.5" text-anchor="middle">60</text><text x="1898.4" y="1682.5" text-anchor="middle">65</text><text x="2091.2" y="1682.5" text-anchor="middle">70</text><text x="2284.0" y="1682.5" text-anchor="middle">75</text></g>
<text x="1159" y="1805" font-size="87" letter-spacing="1" stroke="#fff" stroke-width="1.2">2θ/degree</text>
<text transform="translate(86.4 1058.5) rotate(-90)" font-size="76" letter-spacing="3.1" stroke="#fff" stroke-width="1.1">Intensity/cps</text>
<!-- legend -->
<text x="1470.4" y="139" font-size="55" font-family="'Noto Serif CJK SC', serif">Δ</text>
<circle cx="1478" cy="221" r="10.3"/>
<polygon points="1485,311 1499,327.5 1485,344 1471,327.5"/>
<g font-size="66" stroke="#fff" stroke-width="0.9">
<text x="1542" y="138.5" letter-spacing="3">Ce</text>
<text x="1546" y="238" letter-spacing="8">Co</text>
<text x="1543" y="342" letter-spacing="6">Al</text>
<text x="1641" y="342">O</text>
</g>
<g font-size="32" fill="#707070">
<text x="1621" y="373">2</text>
<text x="1694" y="373">3</text>
</g>
<!-- sample labels -->
<g font-size="66" stroke="#fff" stroke-width="0.9">
<text x="267" y="686" letter-spacing="3.8">CoO/Al</text>
<text x="524" y="686">O</text>
<text x="600" y="686" letter-spacing="2.6">-CeO</text>
<text x="340" y="1013.5" letter-spacing="4.6">CoO/Al</text>
<text x="592" y="1013.5">O</text>
<text x="396" y="1332" letter-spacing="8">Al</text>
<text x="496" y="1332">O</text>
</g>
<g font-size="32" fill="#707070">
<text x="497" y="716">2</text><text x="575" y="716">3</text><text x="753" y="716">2</text>
<text x="570" y="1039.5">2</text><text x="644" y="1039.5">3</text>
<text x="475" y="1358">2</text><text x="549" y="1358">3</text>
</g>
<!-- markers -->
<g font-size="81" font-family="'Noto Serif CJK SC', serif">
<text x="464.5" y="143.5">Δ</text>
<text x="647.2" y="439.7">Δ</text>
<text x="1198.6" y="525.7">Δ</text>
<text x="1550.4" y="634.2">Δ</text>
</g>
<circle cx="837.6" cy="503.5" r="18.3"/>
<circle cx="841.9" cy="730" r="18.3"/>
<polygon points="1146,546 1164.5,571 1146,596 1127.5,571"/><polygon points="1988.6,520 2007.1,545 1988.6,570 1970.1,545"/><polygon points="1984.3,759 2002.8,784 1984.3,809 1965.8,784"/><polygon points="1163.4,811.6 1181.9,836.6 1163.4,861.6 1144.9,836.6"/><polygon points="1163.5,1181 1182.0,1206 1163.5,1231 1145.0,1206"/><polygon points="1989,1133 2007.5,1158 1989,1183 1970.5,1158"/>
</g>
</svg>
</body></html>
